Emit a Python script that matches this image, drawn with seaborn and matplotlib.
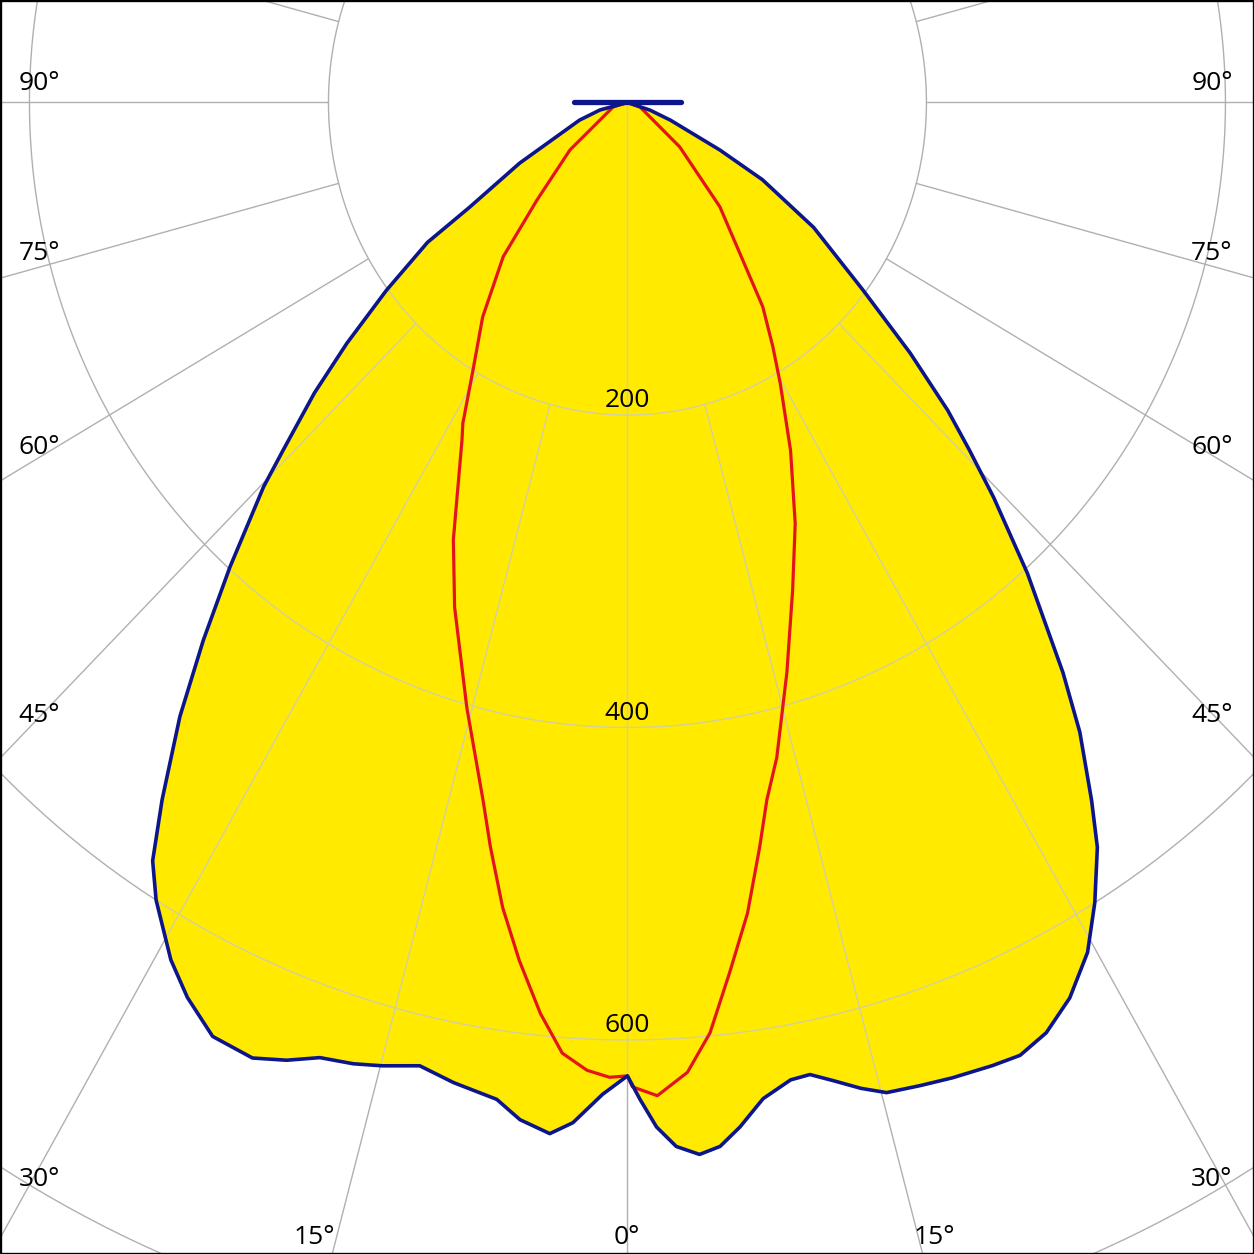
import numpy as np
import pandas as pd
import seaborn as sns
import matplotlib.pyplot as plt

# C0-C180 plane (blue, filled) : angle from nadir in degrees, intensity in cd
c0_angles = [-90, -75.4, -70.6, -61.7, -57.6, -56.2, -53.3, -50.6, -48.4, -46.0,
             -44.7, -41.8, -39.5, -37.3, -34.9, -33.2, -31.7, -29.1, -27.2, -24.9,
             -22.3, -20.4, -18.6, -16.6, -14.9, -12.7, -10.5, -7.8, -6.3, -4.5,
             -3.2, -1.5, 0, 0.75, 1.7, 2.8, 4.1, 5.3, 6.55, 8.1,
             9.9, 11.1, 12.4, 13.9, 15.3, 17.3, 19.2, 21.6, 23.3, 25.2,
             27.3, 29.5, 31.4, 33.4, 34.8, 36.9, 38.6, 41.6, 44.1, 45.8,
             47.4, 49.7, 52.7, 57.3, 61.3, 63.8, 68.5, 72, 90]
c0_cd = [0, 19, 34, 82, 125, 161, 201, 243, 280, 320,
         346, 399, 446, 494, 544, 580, 600, 628, 644, 659,
         661, 654, 645, 642, 638, 632, 638, 644, 655, 662,
         654, 635, 623, 638, 656, 669, 675, 671, 660, 644,
         635, 634, 641, 650, 657, 659, 661, 663, 664, 658,
         645, 625, 600, 571, 544, 504, 467, 403, 352, 319,
         291, 248, 198, 148, 103, 69, 31, 16, 0]

# C90-C270 plane (red)
c90_angles = [-90, -73.4, -51.7, -44.1, -40.1, -35.2, -31.1, -28.2, -27.1, -22.6,
              -19.7, -15.5, -12.2, -10.9, -9.2, -7.5, -5.7, -4.1, -2.5, -1.1,
              0, 0.3, 1.8, 3.7, 5.3, 7.0, 8.8, 10.5, 11.8, 13.4,
              16.3, 19.5, 22.6, 26.1, 29.6, 31.9, 34.7, 42.8, 50.9, 71, 90]
c90_cd = [0, 10, 49, 87, 129, 168, 200, 233, 243, 303,
          343, 402, 457, 485, 522, 554, 586, 610, 620, 624,
          623, 630, 636, 622, 598, 561, 525, 485, 456, 431,
          380, 331, 292, 248, 207, 184, 159, 91, 45, 9, 0]

ring_values = [200, 400, 600, 800]
ring_labels = ["200", "400", "600"]
spoke_angles = list(range(-180, 181, 15))
left_labels = ["90°", "75°", "60°", "45°", "30°"]
bottom_labels = ["15°", "0°", "15°"]
right_labels = ["30°", "45°", "60°", "75°", "90°"]


def to_xy(ang, cd):
    t = np.radians(np.asarray(ang, dtype=float))
    cd = np.asarray(cd, dtype=float)
    return cd * np.sin(t), -cd * np.cos(t)


sns.set_theme(style="white")
plt.rcParams['font.family'] = ['Open Sans', 'DejaVu Sans']

fig = plt.figure(figsize=(12.54, 12.54), dpi=100)
ax = fig.add_axes([0, 0, 1, 1])
ax.set_xlim(-419.7, 419.1)
ax.set_ylim(-737, 65.6)
ax.set_aspect('auto')
ax.set_xticks([])
ax.set_yticks([])
for s in ax.spines.values():
    s.set_color('black')
    s.set_linewidth(2.4)

c0 = pd.DataFrame({'angle': c0_angles, 'cd': c0_cd})
c90 = pd.DataFrame({'angle': c90_angles, 'cd': c90_cd})
c0['x'], c0['y'] = to_xy(c0['angle'], c0['cd'])
c90['x'], c90['y'] = to_xy(c90['angle'], c90['cd'])

tt = np.linspace(0, 360, 721)


def draw_grid(color, z, clip=None):
    lines = []
    for r in ring_values:
        gx, gy = to_xy(tt, np.full_like(tt, r))
        lines += ax.plot(gx, gy, color=color, lw=1.0, zorder=z)
    for a in spoke_angles:
        r0 = 0 if a == 0 else 200
        sx, sy = to_xy([a, a], [r0, 1200])
        lines += ax.plot(sx, sy, color=color, lw=1.0, zorder=z)
    if clip is not None:
        for l in lines:
            l.set_clip_path(clip)


# grey grid under the fill, paler copy on top of the yellow
draw_grid('#b0b0b0', 1)
patch = ax.fill(c0['x'], c0['y'], color='#ffea00', lw=0, zorder=2)[0]
draw_grid('#d2d0a0', 3, clip=patch)

sns.lineplot(data=c90, x='x', y='y', sort=False, estimator=None,
             color='#e3141b', lw=2.3, ax=ax, zorder=4)
sns.lineplot(data=c0, x='x', y='y', sort=False, estimator=None,
             color='#0c168a', lw=2.6, ax=ax, zorder=5)
for l in ax.lines[-2:]:
    l.set_solid_joinstyle('round')
ax.plot([-36, 36], [0, 0], color='#0c168a', lw=3.8, solid_capstyle='round', zorder=6)
ax.set_xlabel('')
ax.set_ylabel('')

for r, txt in zip(ring_values, ring_labels):
    ax.text(0, -(r - 9), txt, ha='center', va='center', fontsize=19,
            color='black', zorder=7)

W = 1254.0
for txt, py in zip(left_labels, [83, 253, 448, 716, 1180]):
    fig.text(39 / W, 1 - py / W, txt, ha='center', va='center', fontsize=19, color='black')
for txt, py in zip(right_labels, [1180, 716, 448, 253, 83]):
    fig.text(1212 / W, 1 - py / W, txt, ha='center', va='center', fontsize=19, color='black')
for txt, px in zip(bottom_labels, [314, 627, 934]):
    fig.text(px / W, 1 - 1237 / W, txt, ha='center', va='center', fontsize=19, color='black')

fig.savefig('out.png', dpi=100)
